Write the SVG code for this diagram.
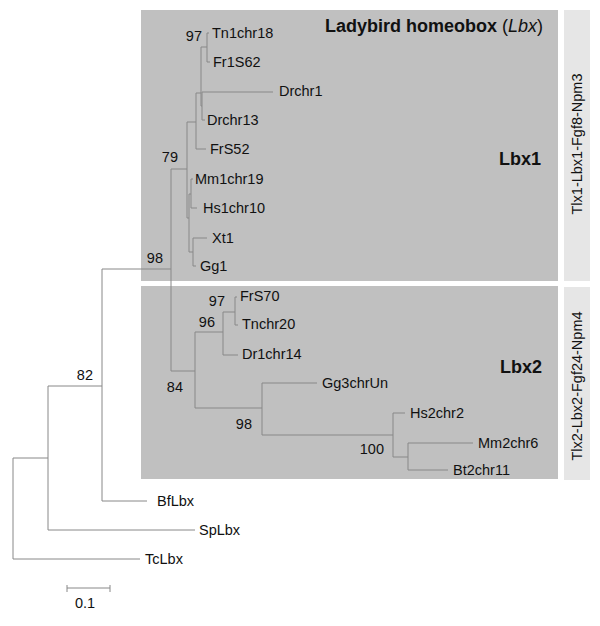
<svg xmlns="http://www.w3.org/2000/svg" width="600" height="626" viewBox="0 0 600 626">
<style>
text{font-family:"Liberation Sans",Arial,sans-serif;fill:#111}
.lf{font-size:14.5px}
.bs{font-size:14.5px}
.hd{font-size:18px;font-weight:bold}
.vt{font-size:14.5px}
.br{fill:none;stroke:#888;stroke-width:1}
.dk{fill:#c0c0c0}
.lt{fill:#e6e6e6}
</style>
<g id="panels">
<rect class="dk" x="141" y="10" width="417" height="271"/>
<rect class="dk" x="141" y="286" width="417" height="193"/>
<rect class="lt" x="564" y="10" width="26" height="271"/>
<rect class="lt" x="564" y="287" width="26" height="193"/>
</g>
<g id="connectors" class="br">
<path d="M13,458V559H140M13,458H48M48,386V530H195M48,386H102M102,269V501H147M102,269H171M171,169V371"/>
<path d="M171,169H187M187,122V218M187,122H196M196,93V149H206M196,93H201M201,47V106M201,47H207M207,33V62M207,33H209M207,62H210M201,106H202M202,92V120M202,92H273M202,120H205"/>
<path d="M187,218H189M189,194V252M189,194H191M191,179V208M191,179H193M191,208H197M189,252H193M193,238V266M193,238H207M193,266H196"/>
<path d="M171,371H195M195,332V408M195,332H223M223,312V355H238M223,312H235M235,297V325M235,297H237M235,325H238"/>
<path d="M195,408H262M262,383V435M262,383H317M262,435H393M393,413V457M393,413H405M393,457H408M408,443V470M408,443H473M408,470H448"/>
<path d="M67,588H110M67,585V592M110,585V592"/>
</g>
<g id="titles">
<text class="hd" x="543" y="32" text-anchor="end">Ladybird homeobox <tspan font-weight="normal">(<tspan font-style="italic">Lbx</tspan>)</tspan></text>
<text class="hd" x="541" y="165" text-anchor="end">Lbx1</text>
<text class="hd" x="542" y="373" text-anchor="end">Lbx2</text>
<text class="vt" transform="translate(582,144) rotate(-90)" text-anchor="middle">Tlx1-Lbx1-Fgf8-Npm3</text>
<text class="vt" transform="translate(582,386) rotate(-90)" text-anchor="middle" font-size="15.5">Tlx2-Lbx2-Fgf24-Npm4</text>
</g>
<g id="leaf-Tn1chr18"><text class="lf" x="212" y="38">Tn1chr18</text></g>
<g id="leaf-Fr1S62"><text class="lf" x="213" y="67">Fr1S62</text></g>
<g id="leaf-Drchr1"><text class="lf" x="279" y="96">Drchr1</text></g>
<g id="leaf-Drchr13"><text class="lf" x="207" y="125">Drchr13</text></g>
<g id="leaf-FrS52"><text class="lf" x="210" y="154">FrS52</text></g>
<g id="leaf-Mm1chr19"><text class="lf" x="195" y="184">Mm1chr19</text></g>
<g id="leaf-Hs1chr10"><text class="lf" x="203" y="213">Hs1chr10</text></g>
<g id="leaf-Xt1"><text class="lf" x="212" y="243">Xt1</text></g>
<g id="leaf-Gg1"><text class="lf" x="200" y="271">Gg1</text></g>
<g id="leaf-FrS70"><text class="lf" x="240" y="301">FrS70</text></g>
<g id="leaf-Tnchr20"><text class="lf" x="242" y="329">Tnchr20</text></g>
<g id="leaf-Dr1chr14"><text class="lf" x="242" y="359">Dr1chr14</text></g>
<g id="leaf-Gg3chrUn"><text class="lf" x="322" y="388">Gg3chrUn</text></g>
<g id="leaf-Hs2chr2"><text class="lf" x="410" y="418">Hs2chr2</text></g>
<g id="leaf-Mm2chr6"><text class="lf" x="478" y="448">Mm2chr6</text></g>
<g id="leaf-Bt2chr11"><text class="lf" x="453" y="475">Bt2chr11</text></g>
<g id="leaf-BfLbx"><text class="lf" x="157" y="506">BfLbx</text></g>
<g id="leaf-SpLbx"><text class="lf" x="199" y="535">SpLbx</text></g>
<g id="leaf-TcLbx"><text class="lf" x="145" y="564">TcLbx</text></g>
<g id="bootstrap">
<text class="bs" x="202" y="41" text-anchor="end">97</text>
<text class="bs" x="178" y="162" text-anchor="end">79</text>
<text class="bs" x="163" y="263" text-anchor="end">98</text>
<text class="bs" x="93" y="380" text-anchor="end">82</text>
<text class="bs" x="225" y="306" text-anchor="end">97</text>
<text class="bs" x="215" y="327" text-anchor="end">96</text>
<text class="bs" x="183" y="392" text-anchor="end">84</text>
<text class="bs" x="252" y="429" text-anchor="end">98</text>
<text class="bs" x="384" y="454" text-anchor="end">100</text>
</g>
<g id="scale"><text class="bs" x="85" y="608" text-anchor="middle">0.1</text></g>
</svg>
